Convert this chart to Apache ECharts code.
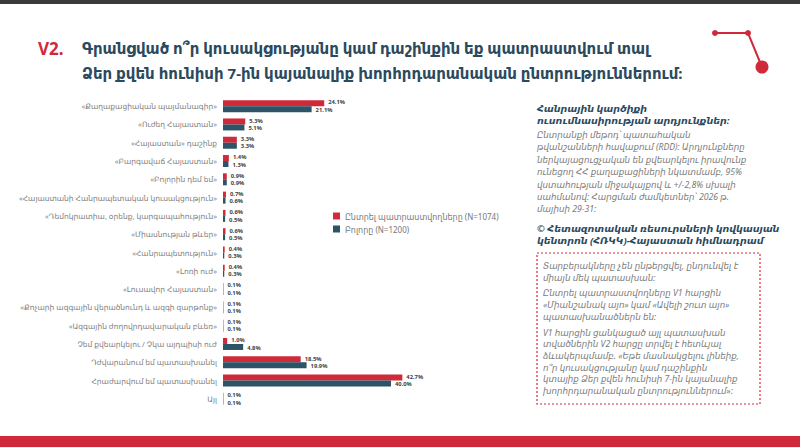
<!DOCTYPE html>
<html><head><meta charset="utf-8">
<script src="https://cdn.jsdelivr.net/npm/echarts@6/dist/echarts.min.js"></script>
<style>html,body{margin:0;padding:0;background:#fff}#c{width:800px;height:447px}</style>
</head><body><div id="c"></div>
<script>
const categories = [
  '«Քաղաքացիական պայմանագիր»',
  '«Ուժեղ Հայաստան»',
  '«Հայաստան» դաշինք',
  '«Բարգավաճ Հայաստան»',
  '«Բոլորին դեմ եմ»',
  '«Հայաստանի Հանրապետական կուսակցություն»',
  '«Դեմոկրատիա, օրենք, կարգապահություն»',
  '«Միասնության թևեր»',
  '«Հանրապետություն»',
  '«Լոռի ուժ»',
  '«Լուսավոր Հայաստան»',
  '«Քոչարի ազգային վերածնունդ և ազգի զարթոնք»',
  '«Ազգային ժողովրդավարական բևեռ»',
  'Չեմ քվեարկելու / Չկա այդպիսի ուժ',
  'Դժվարանում եմ պատասխանել',
  'Հրաժարվում եմ պատասխանել',
  'Այլ'
];
const likelyVoters = [24.1, 5.3, 3.3, 1.4, 0.9, 0.7, 0.6, 0.6, 0.4, 0.4, 0.1, 0.1, 0.1, 1.0, 18.5, 42.7, 0.1];
const allRespondents = [21.1, 5.1, 3.3, 1.3, 0.9, 0.6, 0.5, 0.5, 0.3, 0.3, 0.1, 0.1, 0.1, 4.8, 19.9, 40.0, 0.1];
const seriesNames = ['Ընտրել պատրաստվողները (N=1074)', 'Բոլորը (N=1200)'];

const titleV = 'V2.';
const titleLines = [
  'Գրանցված ո՞ր կուսակցությանը կամ դաշինքին եք պատրաստվում տալ',
  'Ձեր քվեն հունիսի 7-ին կայանալիք խորհրդարանական ընտրություններում:'
];
const headLines = ['Հանրային կարծիքի', 'ուսումնասիրության արդյունքներ:'];
const bodyLines = [
  'Ընտրանքի մեթոդ՝ պատահական',
  'թվանշանների հավաքում (RDD): Արդյունքները',
  'ներկայացուցչական են քվեարկելու իրավունք',
  'ունեցող ՀՀ քաղաքացիների նկատմամբ, 95%',
  'վստահության միջակայքով և +/-2,8% սխալի',
  'սահմանով: Հարցման ժամկետներ՝ 2026 թ.',
  'մայիսի 29-31:'
];
const copyLines = ['© Հետազոտական ռեսուրսների կովկասյան', 'կենտրոն (ՀՌԿԿ)-Հայաստան հիմնադրամ'];
const boxBlocks = [
  ['Տարբերակները չեն ընթերցվել, ընդունվել է', 'միայն մեկ պատասխան:'],
  ['Ընտրել պատրաստվողները V1 հարցին', '«Միանշանակ այո» կամ «Ավելի շուտ այո»', 'պատասխանածներն են:'],
  ['V1 հարցին ցանկացած այլ պատասխան', 'տվածներին V2 հարցը տրվել է հետևյալ', 'ձևակերպմամբ. «Եթե մասնակցելու լինեիք,', 'ո՞ր կուսակցությանը կամ դաշինքին', 'կտայիք Ձեր քվեն հունիսի 7-ին կայանալիք', 'խորհրդարանական ընտրություններում»:']
];

const RED = '#d02a3a', BLUE = '#2d5367', NAVY = '#2c4a5e';
const FF = '"Noto Sans", "DejaVu Sans", sans-serif';

const graphics = [];
graphics.push({type:'rect', shape:{x:0,y:0,width:800,height:4}, style:{fill:'#3a3a3a'}});
graphics.push({type:'rect', shape:{x:0,y:436,width:800,height:11}, style:{fill:RED}});
graphics.push({type:'text', x:38, y:48, style:{text:titleV, fill:RED, font:'bold 17px '+FF, textVerticalAlign:'middle'}});
titleLines.forEach((t,i)=>graphics.push({type:'text', x:82, y:48+i*25, style:{text:t, fill:NAVY, font:'bold 15px '+FF, textVerticalAlign:'middle'}}));
graphics.push({type:'polyline', shape:{points:[[715,33],[748,33],[762,67]]}, style:{stroke:RED, lineWidth:2, fill:null}});
graphics.push({type:'circle', shape:{cx:715,cy:33,r:3}, style:{fill:RED}});
graphics.push({type:'circle', shape:{cx:748,cy:33,r:3}, style:{fill:RED}});
graphics.push({type:'circle', shape:{cx:762,cy:67,r:6.5}, style:{fill:RED}});

headLines.forEach((t,i)=>graphics.push({type:'text', x:537, y:108+i*12.5, style:{text:t, fill:NAVY, font:'italic bold 9.5px '+FF, textVerticalAlign:'middle'}}));
bodyLines.forEach((t,i)=>graphics.push({type:'text', x:537, y:135+i*12.4, style:{text:t, fill:'#7a7a7a', font:'italic 8.7px '+FF, textVerticalAlign:'middle'}}));
copyLines.forEach((t,i)=>graphics.push({type:'text', x:537, y:228+i*12.5, style:{text:t, fill:NAVY, font:'italic bold 9.5px '+FF, textVerticalAlign:'middle'}}));
graphics.push({type:'rect', shape:{x:537,y:253,width:223,height:151}, style:{fill:null, stroke:RED, lineWidth:1.2, lineDash:[2,2]}});
let yy = 266;
boxBlocks.forEach((blk)=>{
  blk.forEach((t)=>{graphics.push({type:'text', x:543, y:yy, style:{text:t, fill:'#7a7a7a', font:'italic 8.7px '+FF, textVerticalAlign:'middle'}}); yy += 11.7;});
  yy += 4;
});

const fmt = p => p.value.toFixed(1) + '%';
const lbl = (dy) => ({show:true, position:'right', distance:4, offset:[0,dy], formatter:fmt, fontSize:5.8, lineHeight:6, fontWeight:'bold', color:'#444', fontFamily:FF});
const chart = echarts.init(document.getElementById('c'), null, {renderer:'svg'});
chart.setOption({
  animation:false,
  grid:{left:223, top:97, width:420, height:311, containLabel:false},
  xAxis:{type:'value', min:0, max:100, show:false},
  yAxis:{type:'category', inverse:true, data:categories,
    axisLine:{show:false}, axisTick:{show:false},
    axisLabel:{color:'#808080', fontSize:7.5, fontFamily:FF, margin:6}},
  legend:{left:328, top:207, orient:'vertical', itemWidth:7, itemHeight:7, itemGap:5,
    icon:'rect', textStyle:{color:'#777', fontSize:8, fontFamily:FF, padding:[0,0,0,0]}, data:seriesNames},
  series:[
    {name:seriesNames[0], type:'bar', data:likelyVoters, barWidth:6, barGap:'0%', itemStyle:{color:RED},
     label:lbl(-0.7)},
    {name:seriesNames[1], type:'bar', data:allRespondents, barWidth:6, barGap:'0%', itemStyle:{color:BLUE},
     label:lbl(0.7)}
  ],
  graphic:graphics
});
</script></body></html>
